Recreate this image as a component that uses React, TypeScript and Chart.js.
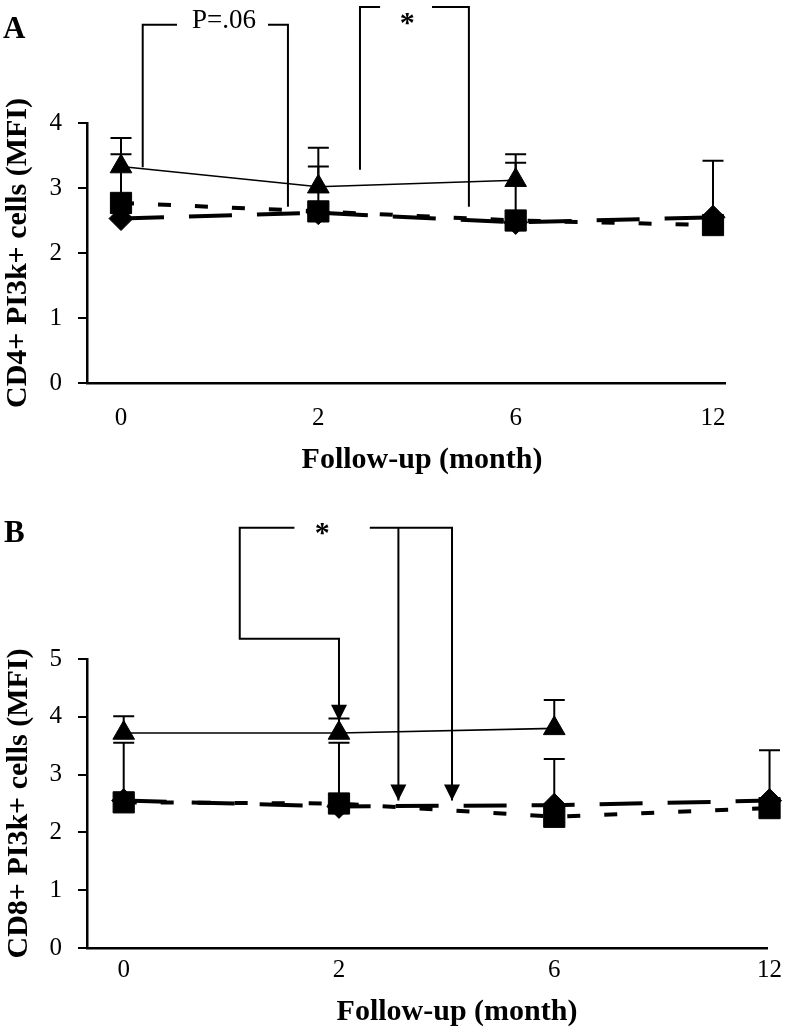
import React, { useEffect, useRef } from 'react';
import { Chart, registerables } from 'chart.js';

Chart.register(...registerables);

// ---------- data ----------
const monthLabels = ['0', '2', '6', '12'];
const monthPos = [0, 1, 2, 3];

// Panel A: CD4+ PI3k+ cells (MFI)
const aTriangle = [3.33, 3.02, 3.12];
const aTriangleHigh = [3.77, 3.62, 3.52];
const aSquare = [2.77, 2.64, 2.5, 2.43];
const aSquareHigh = [3.52, 3.33, 3.39, 3.42];
const aDiamond = [2.53, 2.62, 2.47, 2.55];
const aYTicks = [0, 1, 2, 3, 4];

// Panel B: CD8+ PI3k+ cells (MFI)
const bTriangle = [3.72, 3.72, 3.8];
const bTriangleHigh = [4.01, 3.97, 4.29];
const bSquare = [2.52, 2.5, 2.27, 2.42];
const bSquareHigh = [3.55, 3.55, 3.27, 3.42];
const bDiamond = [2.55, 2.45, 2.47, 2.55];
const bYTicks = [0, 1, 2, 3, 4, 5];

// significance brackets (x in month-index units, y in MFI units)
const aBracketPaths = [
  { pts: [[0.11, 3.32], [0.11, 5.51], [0.284, 5.51]], arrow: false },
  { pts: [[0.745, 5.51], [0.846, 5.51], [0.846, 2.71]], arrow: false },
  { pts: [[1.211, 3.28], [1.211, 5.785], [1.313, 5.785]], arrow: false },
  { pts: [[1.576, 5.785], [1.763, 5.785], [1.763, 2.71]], arrow: false },
];
const aBracketLabels = [
  { text: 'P=.06', x: 0.522, y: 5.46, size: 27, bold: false },
  { text: '*', x: 1.45, y: 5.4, size: 30, bold: true },
];
const bBracketPaths = [
  { pts: [[0.793, 7.27], [0.539, 7.27], [0.539, 5.35], [1.0, 5.35], [1.0, 3.93]], arrow: true },
  { pts: [[1.143, 7.27], [1.525, 7.27], [1.525, 2.55]], arrow: true },
  { pts: [[1.276, 7.27], [1.276, 2.55]], arrow: true },
];
const bBracketLabels = [{ text: '*', x: 0.922, y: 7.02, size: 30, bold: true }];

const FONT = "'Liberation Serif', 'Times New Roman', serif";

type PanelCfg = {
  letter: string;
  yTitle: string;
  xTitle: string;
  triangle: number[];
  triangleHigh: number[];
  square: number[];
  squareHigh: number[];
  diamond: number[];
  yTicks: number[];
  paths: { pts: number[][]; arrow: boolean }[];
  labels: { text: string; x: number; y: number; size: number; bold: boolean }[];
  height: number;
  padTop: number;
  padRight: number;
  xAxisH: number;
  xMin: number;
  xMax: number;
  xTickPad: number;
  letterPos: [number, number];
  xTitlePos: [number, number];
  yTitleX: number;
};

const panelA: PanelCfg = {
  letter: 'A',
  yTitle: 'CD4+ PI3k+ cells (MFI)',
  xTitle: 'Follow-up (month)',
  triangle: aTriangle,
  triangleHigh: aTriangleHigh,
  square: aSquare,
  squareHigh: aSquareHigh,
  diamond: aDiamond,
  yTicks: aYTicks,
  paths: aBracketPaths,
  labels: aBracketLabels,
  height: 495,
  padTop: 123,
  padRight: 64,
  xAxisH: 112,
  xMin: -0.1723,
  xMax: 3.0608,
  xTickPad: 20,
  letterPos: [3, 38],
  xTitlePos: [422, 468],
  yTitleX: 26,
};

const panelB: PanelCfg = {
  letter: 'B',
  yTitle: 'CD8+ PI3k+ cells (MFI)',
  xTitle: 'Follow-up (month)',
  triangle: bTriangle,
  triangleHigh: bTriangleHigh,
  square: bSquare,
  squareHigh: bSquareHigh,
  diamond: bDiamond,
  yTicks: bYTicks,
  paths: bBracketPaths,
  labels: bBracketLabels,
  height: 533,
  padTop: 164,
  padRight: 16,
  xAxisH: 80,
  xMin: -0.1705,
  xMax: 2.9908,
  xTickPad: 7,
  letterPos: [4, 47],
  xTitlePos: [457, 525],
  yTitleX: 27,
};

function makeDecor(cfg: PanelCfg) {
  return {
    id: 'decor' + cfg.letter,
    beforeDatasetsDraw(chart: any) {
      const ctx = chart.ctx;
      const ys = chart.scales.y;
      ctx.save();
      ctx.strokeStyle = '#000';
      ctx.lineWidth = 2;
      chart.data.datasets.forEach((ds: any, i: number) => {
        const high = ds.errHigh as number[] | undefined;
        if (!high) return;
        const meta = chart.getDatasetMeta(i);
        meta.data.forEach((pt: any, j: number) => {
          if (high[j] == null) return;
          const yh = ys.getPixelForValue(high[j]);
          ctx.beginPath();
          ctx.moveTo(pt.x, pt.y);
          ctx.lineTo(pt.x, yh);
          ctx.moveTo(pt.x - 10.5, yh);
          ctx.lineTo(pt.x + 10.5, yh);
          ctx.stroke();
        });
      });
      ctx.restore();
    },
    afterDraw(chart: any) {
      const ctx = chart.ctx;
      const xs = chart.scales.x;
      const ys = chart.scales.y;
      const area = chart.chartArea;
      ctx.save();
      ctx.fillStyle = '#000';
      ctx.strokeStyle = '#000';
      ctx.lineWidth = 2;
      ctx.lineJoin = 'miter';
      cfg.paths.forEach((p) => {
        ctx.beginPath();
        p.pts.forEach(([vx, vy], k) => {
          const px = xs.getPixelForValue(vx);
          const py = ys.getPixelForValue(vy);
          if (k === 0) ctx.moveTo(px, py);
          else ctx.lineTo(px, py);
        });
        ctx.stroke();
        if (p.arrow) {
          const [vx, vy] = p.pts[p.pts.length - 1];
          const tx = xs.getPixelForValue(vx);
          const ty = ys.getPixelForValue(vy);
          ctx.beginPath();
          ctx.moveTo(tx, ty);
          ctx.lineTo(tx - 8, ty - 16);
          ctx.lineTo(tx + 8, ty - 16);
          ctx.closePath();
          ctx.fill();
        }
      });
      ctx.textAlign = 'center';
      ctx.textBaseline = 'alphabetic';
      cfg.labels.forEach((l) => {
        ctx.font = `${l.bold ? 'bold ' : ''}${l.size}px ${FONT}`;
        ctx.fillText(l.text, xs.getPixelForValue(l.x), ys.getPixelForValue(l.y));
      });
      // panel letter
      ctx.font = `bold 31px ${FONT}`;
      ctx.textAlign = 'left';
      ctx.fillText(cfg.letter, cfg.letterPos[0], cfg.letterPos[1]);
      // x title
      ctx.font = `bold 30px ${FONT}`;
      ctx.textAlign = 'center';
      ctx.fillText(cfg.xTitle, cfg.xTitlePos[0], cfg.xTitlePos[1]);
      // y title
      ctx.translate(cfg.yTitleX, (area.top + area.bottom) / 2);
      ctx.rotate(-Math.PI / 2);
      ctx.fillText(cfg.yTitle, 0, 0);
      ctx.restore();
    },
  };
}

function buildConfig(cfg: PanelCfg): any {
  const tri = cfg.triangle.map((v, i) => ({ x: monthPos[i], y: v }));
  const sq = cfg.square.map((v, i) => ({ x: monthPos[i], y: v }));
  const dia = cfg.diamond.map((v, i) => ({ x: monthPos[i], y: v }));
  return {
    type: 'line',
    data: {
      datasets: [
        {
          data: tri,
          errHigh: cfg.triangleHigh,
          borderColor: '#000',
          borderWidth: 1.6,
          pointStyle: 'triangle',
          pointRadius: 12.5,
          pointBackgroundColor: '#000',
          pointBorderColor: '#000',
          pointBorderWidth: 1,
          clip: false,
        },
        {
          data: sq,
          errHigh: cfg.squareHigh,
          borderColor: '#000',
          borderWidth: 4,
          borderDash: [13, 24],
          pointStyle: 'rect',
          pointRadius: 15,
          pointBackgroundColor: '#000',
          pointBorderColor: '#000',
          pointBorderWidth: 1,
          clip: false,
        },
        {
          data: dia,
          borderColor: '#000',
          borderWidth: 4,
          borderDash: [43, 25],
          pointStyle: 'rectRot',
          pointRadius: 12,
          pointBackgroundColor: '#000',
          pointBorderColor: '#000',
          pointBorderWidth: 1,
          clip: false,
        },
      ],
    },
    options: {
      responsive: false,
      animation: false,
      devicePixelRatio: 1,
      layout: { padding: { top: cfg.padTop, right: cfg.padRight, left: 0, bottom: 0 } },
      plugins: { legend: { display: false }, tooltip: { enabled: false } },
      scales: {
        x: {
          type: 'linear',
          min: cfg.xMin,
          max: cfg.xMax,
          afterBuildTicks: (s: any) => {
            s.ticks = monthPos.map((v) => ({ value: v }));
          },
          afterFit: (s: any) => {
            s.height = cfg.xAxisH;
          },
          ticks: {
            autoSkip: false,
            maxRotation: 0,
            padding: cfg.xTickPad,
            color: '#000',
            font: { family: FONT, size: 25 },
            callback: (v: number) => monthLabels[monthPos.indexOf(v)],
          },
          grid: { display: false, drawTicks: false },
          border: { display: true, color: '#000', width: 2.5 },
        },
        y: {
          type: 'linear',
          min: cfg.yTicks[0],
          max: cfg.yTicks[cfg.yTicks.length - 1],
          afterBuildTicks: (s: any) => {
            s.ticks = cfg.yTicks.map((v) => ({ value: v }));
          },
          afterFit: (s: any) => {
            s.width = 87;
          },
          ticks: {
            padding: 16,
            color: '#000',
            font: { family: FONT, size: 25 },
          },
          grid: {
            display: true,
            drawOnChartArea: false,
            drawTicks: true,
            tickLength: 9,
            color: '#000',
            lineWidth: 2,
          },
          border: { display: true, color: '#000', width: 2.5 },
        },
      },
    },
    plugins: [makeDecor(cfg)],
  };
}

function Panel({ cfg, top }: { cfg: PanelCfg; top: number }) {
  const ref = useRef<HTMLCanvasElement>(null);
  useEffect(() => {
    const chart = new Chart(ref.current as HTMLCanvasElement, buildConfig(cfg));
    return () => chart.destroy();
  }, []);
  return (
    <canvas
      ref={ref}
      width={789}
      height={cfg.height}
      style={{ position: 'absolute', left: 0, top, width: 789, height: cfg.height, display: 'block' }}
    />
  );
}

export default function App() {
  return (
    <div style={{ position: 'absolute', left: 0, top: 0, width: 789, height: 1028, background: '#fff', overflow: 'hidden' }}>
      <Panel cfg={panelA} top={0} />
      <Panel cfg={panelB} top={495} />
    </div>
  );
}
